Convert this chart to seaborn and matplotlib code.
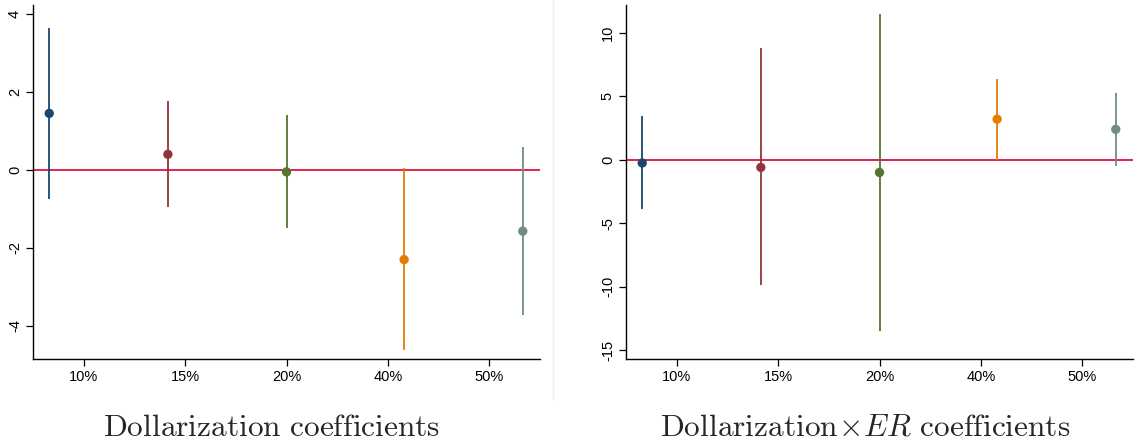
import numpy as np
import pandas as pd
import matplotlib
matplotlib.use("Agg")
import matplotlib.pyplot as plt
import seaborn as sns

# ---- data ----
thresholds = ["10%", "15%", "20%", "40%", "50%"]

dollar_coef = [1.45, 0.40, -0.05, -2.30, -1.57]
dollar_lo = [-0.75, -0.95, -1.50, -4.62, -3.73]
dollar_hi = [3.65, 1.78, 1.42, 0.05, 0.60]

dollar_er_coef = [-0.25, -0.60, -1.00, 3.20, 2.40]
dollar_er_lo = [-3.85, -9.90, -13.50, 0.00, -0.45]
dollar_er_hi = [3.45, 8.80, 11.50, 6.40, 5.30]

titles = [r"$\mathrm{Dollarization\ coefficients}$",
          r"$\mathrm{Dollarization}\!\times\! ER\ \mathrm{coefficients}$"]

colors = ["#1a476f", "#90353b", "#55752f", "#e37e00", "#6e8e84"]
offsets = [-0.34, -0.17, 0.0, 0.16, 0.33]

sns.set_theme(style="white")
plt.rcParams["font.family"] = ["Liberation Sans", "DejaVu Sans"]
plt.rcParams["mathtext.fontset"] = "cm"

fig = plt.figure(figsize=(11.4, 4.46), dpi=100)
W, H = 1140, 446
ax1 = fig.add_axes([33 / W, (H - 359) / H, (540 - 33) / W, (359 - 5) / H])
ax2 = fig.add_axes([626 / W, (H - 359) / H, (1133 - 626) / W, (359 - 5) / H])

panels = [
    (ax1, dollar_coef, dollar_lo, dollar_hi, (-4.85, 4.23), [-4, -2, 0, 2, 4]),
    (ax2, dollar_er_coef, dollar_er_lo, dollar_er_hi, (-15.7, 12.2), [-15, -10, -5, 0, 5, 10]),
]

for i, (ax, coef, lo, hi, ylim, yt) in enumerate(panels):
    xpos = np.arange(1, 6) + np.array(offsets)
    df = pd.DataFrame({"x": xpos, "coef": coef, "lo": lo, "hi": hi,
                       "thr": thresholds})
    ax.axhline(0, color="#dc143c", lw=1.3, zorder=1)
    for j, row in df.iterrows():
        ax.vlines(row["x"], row["lo"], row["hi"], color=colors[j], lw=1.3, zorder=2)
    sns.scatterplot(data=df, x="x", y="coef", hue="thr", palette=colors,
                    s=45, edgecolor="none", legend=False, ax=ax, zorder=3)
    ax.set_xlim(0.5, 5.5)
    ax.set_ylim(*ylim)
    ax.set_xticks(np.arange(1, 6))
    ax.set_xticklabels(thresholds)
    ax.set_yticks(yt)
    ax.set_yticklabels([str(v) for v in yt], rotation=90, va="center")
    ax.set_xlabel("")
    ax.set_ylabel("")
    ax.tick_params(axis="both", which="both", direction="out", length=5,
                   width=0.9, color="black", labelsize=10.5, labelcolor="black",
                   bottom=True, left=True, pad=3)
    sns.despine(ax=ax)
    for s in ["left", "bottom"]:
        ax.spines[s].set_color("black")
        ax.spines[s].set_linewidth(1.0)
    ax.set_facecolor("white")

fig.text(272 / W, 1 - 428 / H, titles[0], ha="center", va="center", fontsize=22.6)
fig.text(865 / W, 1 - 428 / H, titles[1], ha="center", va="center", fontsize=22.6)

fig.add_artist(plt.Line2D([553 / W, 553 / W], [1 - 400 / H, 1.0],
                          color="#eeeeee", lw=1))

fig.savefig("out.png", dpi=100, facecolor="white")
